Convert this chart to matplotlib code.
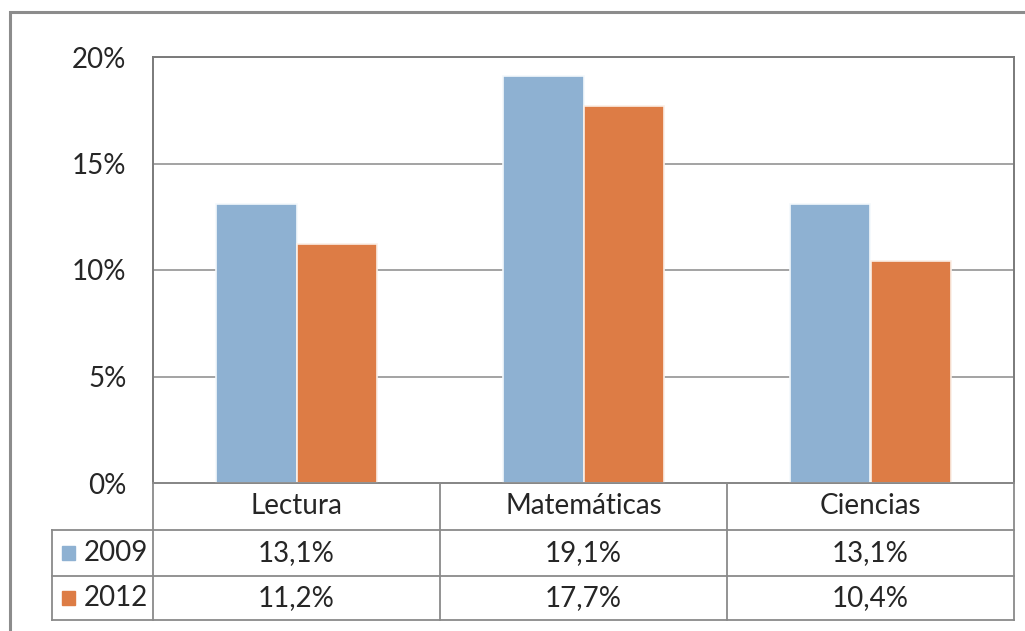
import matplotlib
matplotlib.use("Agg")
import matplotlib.pyplot as plt
from matplotlib.patches import Rectangle
from matplotlib.lines import Line2D
import numpy as np

categories = ["Lectura", "Matemáticas", "Ciencias"]
series_names = ["2009", "2012"]
values_2009 = [13.1, 19.1, 13.1]
values_2012 = [11.2, 17.7, 10.4]
labels_2009 = ["13,1%", "19,1%", "13,1%"]
labels_2012 = ["11,2%", "17,7%", "10,4%"]
yticks = [0, 5, 10, 15, 20]
ytick_labels = ["0%", "5%", "10%", "15%", "20%"]

colors = ["#8EB1D2", "#DD7C45"]
text_color = "#262626"
grid_color = "#8a8a8a"
font = "Lato"

W, H = 1025, 631
fig = plt.figure(figsize=(W / 100, H / 100), dpi=100)

def fx(px):
    return px / W

def fy(py):
    return 1 - py / H

L, R, T, B = 153, 1014, 57, 483
ax = fig.add_axes([fx(L), fy(B), fx(R) - fx(L), fy(T) - fy(B)])
x = np.arange(len(categories))
bw = 0.28
ax.bar(x - bw / 2, values_2009, width=bw, color=colors[0], edgecolor="#f4f8fc", linewidth=1.2, zorder=3)
ax.bar(x + bw / 2, values_2012, width=bw, color=colors[1], edgecolor="#fbefe6", linewidth=1.2, zorder=3)
ax.set_xlim(-0.5, len(categories) - 0.5)
ax.set_ylim(0, 20)
ax.set_yticks(yticks)
ax.set_yticklabels(ytick_labels, fontsize=20, color=text_color, fontfamily=font)
ax.tick_params(axis="y", length=0, pad=19)
ax.set_xticks([])
ax.yaxis.grid(True, color=grid_color, linewidth=1.1, zorder=0)
for s in ["top", "right", "left", "bottom"]:
    ax.spines[s].set_color("#7a7a7a")
    ax.spines[s].set_linewidth(1.4)

# Data table below the plot
col_edges = [L + (R - L) * i / len(categories) for i in range(len(categories) + 1)]
row_edges = [483, 530, 576, 620]
tl = 52
lc = "#8a8a8a"
lw = 1.3
fs = 20
fig.add_artist(Line2D([fx(L), fx(R)], [fy(row_edges[0])] * 2, color=lc, lw=lw))
for ry in row_edges[1:]:
    fig.add_artist(Line2D([fx(tl), fx(R)], [fy(ry)] * 2, color=lc, lw=lw))
fig.add_artist(Line2D([fx(tl)] * 2, [fy(row_edges[1]), fy(row_edges[3])], color=lc, lw=lw))
for cx in col_edges:
    fig.add_artist(Line2D([fx(cx)] * 2, [fy(row_edges[0]), fy(row_edges[3])], color=lc, lw=lw))

for i, cat in enumerate(categories):
    cx = (col_edges[i] + col_edges[i + 1]) / 2
    fig.text(fx(cx), fy((row_edges[0] + row_edges[1]) / 2), cat, ha="center", va="center",
             fontsize=fs, color=text_color, fontfamily=font)
    fig.text(fx(cx), fy((row_edges[1] + row_edges[2]) / 2), labels_2009[i], ha="center", va="center",
             fontsize=fs, color=text_color, fontfamily=font)
    fig.text(fx(cx), fy((row_edges[2] + row_edges[3]) / 2), labels_2012[i], ha="center", va="center",
             fontsize=fs, color=text_color, fontfamily=font)

for j, name in enumerate(series_names):
    cy = (row_edges[j + 1] + row_edges[j + 2]) / 2
    fig.add_artist(Rectangle((fx(62), fy(cy + 7)), fx(13), 14 / H, color=colors[j]))
    fig.text(fx(84), fy(cy), name, ha="left", va="center", fontsize=fs,
             color=text_color, fontfamily=font)

fig.add_artist(Rectangle((fx(10), fy(640)), fx(1030 - 10), (640 - 12) / H,
                         fill=False, edgecolor="#8c8c8c", linewidth=2.2))

fig.savefig("out.png", dpi=100)
